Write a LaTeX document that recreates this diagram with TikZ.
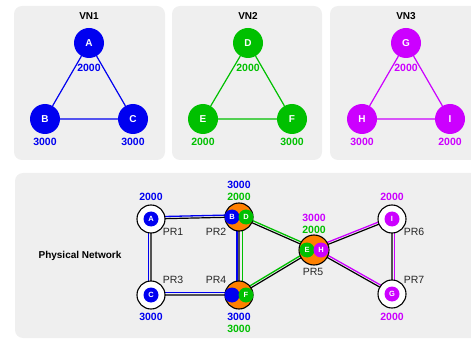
\documentclass[tikz,border=0pt]{standalone}
\usepackage{fontspec}
\setmainfont{Liberation Sans}
\usetikzlibrary{positioning,calc}
\definecolor{vnA}{HTML}{0000F0}
\definecolor{vnB}{HTML}{00C000}
\definecolor{vnC}{HTML}{CC00FF}
\definecolor{pan}{HTML}{EFEFEF}
\definecolor{sub}{HTML}{FF8000}
\pgfdeclarelayer{back}
\pgfdeclarelayer{links}
\pgfsetlayers{back,links,main}

\begin{document}
\begin{tikzpicture}[x=1pt,y=-1pt,
        panel/.style={fill=pan,rounded corners=8pt},
        title/.style={font=\bfseries\fontsize{10}{11}\selectfont,inner sep=0pt},
        vnode/.style={circle,minimum size=30pt,inner sep=0pt,text=white,font=\bfseries\fontsize{10}{11}\selectfont},
        vlink/.style={line width=1.2pt},
        pnode/.style={circle,draw=black,line width=1.1pt,fill=white,minimum size=28pt,inner sep=0pt},
        snode/.style={circle,minimum size=15pt,inner sep=0pt,text=white,font=\bfseries\fontsize{7.5}{8}\selectfont},
        bwlbl/.style={font=\bfseries\fontsize{10.5}{11}\selectfont,inner sep=0pt},
        plbl/.style={font=\fontsize{10.5}{11}\selectfont,inner sep=0pt,text=black!85}]
        \useasboundingbox (0,0) rectangle (471,339);

        % Panels
        \begin{pgfonlayer}{back}
        \fill[panel] (14,6) rectangle (165,160);
        \fill[panel] (172,6) rectangle (322,160);
        \fill[panel] (330,6) rectangle (490,160);
        \fill[panel] (15,173) rectangle (490,338);
        \end{pgfonlayer}

        % VN1
        \node[title] (t1) at (89,16) {VN1};
        \node[vnode,fill=vnA] (a) at (89,43) {A};
        \node[vnode,fill=vnA] (b) at (45,119) {B};
        \node[vnode,fill=vnA] (c) at (133,119) {C};
        \draw[vlink,vnA] (a) -- (b) (b) -- (c) (c) -- (a);
        \node[bwlbl,vnA] (la) at (89,68) {2000};
        \node[bwlbl,vnA] (lb) at (45,142) {3000};
        \node[bwlbl,vnA] (lc) at (133,142) {3000};

        % VN2
        \node[title] (t2) at (248,16) {VN2};
        \node[vnode,fill=vnB] (d) at (248,43) {D};
        \node[vnode,fill=vnB] (e) at (203,119) {E};
        \node[vnode,fill=vnB] (f) at (292,119) {F};
        \draw[vlink,vnB] (d) -- (e) (e) -- (f) (f) -- (d);
        \node[bwlbl,vnB] (ld) at (248,68) {2000};
        \node[bwlbl,vnB] (le) at (203,142) {2000};
        \node[bwlbl,vnB] (lf) at (292,142) {3000};

        % VN3
        \node[title] (t3) at (406,16) {VN3};
        \node[vnode,fill=vnC] (g) at (406,43) {G};
        \node[vnode,fill=vnC] (h) at (362,119) {H};
        \node[vnode,fill=vnC] (i) at (450,119) {I};
        \draw[vlink,vnC] (g) -- (h) (h) -- (i) (i) -- (g);
        \node[bwlbl,vnC] (lg) at (406,68) {2000};
        \node[bwlbl,vnC] (lh) at (362,142) {3000};
        \node[bwlbl,vnC] (li) at (450,142) {2000};

        % Physical network
        \node[title] (tp) at (80,256) {Physical Network};
        \node[pnode] (pr1) at (151,219) {};
        \node[pnode,fill=sub] (pr2) at (239,217) {};
        \node[pnode] (pr3) at (151,295) {};
        \node[pnode,fill=sub] (pr4) at (239,295) {};
        \node[pnode,fill=sub,minimum size=30pt] (pr5) at (314,250) {};
        \node[pnode] (pr6) at (392,219) {};
        \node[pnode] (pr7) at (392,294) {};

        % hosted virtual nodes
        \node[snode,fill=vnA] (sa) at (pr1) {A};
        \node[snode,fill=vnA] (sc) at (pr3) {C};
        \node[snode,fill=vnA] (sb) at ($(pr2)+(-7,0)$) {B};
        \node[snode,fill=vnB] (sd) at ($(pr2)+(7,0)$) {D};
        \node[snode,fill=vnA] (sx) at ($(pr4)+(-7,0)$) {};
        \node[snode,fill=vnB] (sf) at ($(pr4)+(7,0)$) {F};
        \node[snode,fill=vnB] (se) at ($(pr5)+(-7,0)$) {E};
        \node[snode,fill=vnC] (sh) at ($(pr5)+(7,0)$) {H};
        \node[snode,fill=vnC] (si) at (pr6) {I};
        \node[snode,fill=vnC] (sg) at (pr7) {G};

        % links: mapped virtual link beside the black substrate line
        \begin{pgfonlayer}{links}
        \foreach \p/\q/\col/\dx/\dy in {pr1/pr2/vnA/0/-2.2, pr3/pr4/vnA/0/-2.2, pr1/pr3/vnA/-2.2/0,
                pr2/pr4/vnA/-2/0, pr2/pr4/vnB/3.2/0, pr2/pr5/vnB/0.9/-2, pr4/pr5/vnB/-1.1/-1.9,
                pr5/pr6/vnC/-0.8/-2, pr5/pr7/vnC/1.1/-1.9, pr6/pr7/vnC/2.2/0}
            \draw[draw=\col,line width=1.3pt] ($(\p.center)+(\dx,\dy)$) -- ($(\q.center)+(\dx,\dy)$);
        \draw[black,line width=1.2pt] (pr1.center) -- (pr2.center) (pr3.center) -- (pr4.center)
            (pr1.center) -- (pr3.center) (pr2.center) -- (pr4.center)
            (pr2.center) -- (pr5.center) (pr4.center) -- (pr5.center)
            (pr5.center) -- (pr6.center) (pr5.center) -- (pr7.center) (pr6.center) -- (pr7.center);
        \end{pgfonlayer}

        % substrate names
        \node[plbl] (n1) at (173,232) {PR1};
        \node[plbl] (n2) at (216,232) {PR2};
        \node[plbl] (n3) at (173,280) {PR3};
        \node[plbl] (n4) at (216,280) {PR4};
        \node[plbl] (n5) at (313,272) {PR5};
        \node[plbl] (n6) at (414,232) {PR6};
        \node[plbl] (n7) at (414,280) {PR7};

        % capacities
        \node[bwlbl,vnA] (c1) at (151,197) {2000};
        \node[bwlbl,vnA] (c2a) at (239,185) {3000};
        \node[bwlbl,vnB] (c2b) at (239,197) {2000};
        \node[bwlbl,vnA] (c3) at (151,317) {3000};
        \node[bwlbl,vnA] (c4a) at (239,317) {3000};
        \node[bwlbl,vnB] (c4b) at (239,329) {3000};
        \node[bwlbl,vnC] (c5a) at (314,218) {3000};
        \node[bwlbl,vnB] (c5b) at (314,230) {2000};
        \node[bwlbl,vnC] (c6) at (392,197) {2000};
        \node[bwlbl,vnC] (c7) at (392,317) {2000};
    \end{tikzpicture}
\end{document}
